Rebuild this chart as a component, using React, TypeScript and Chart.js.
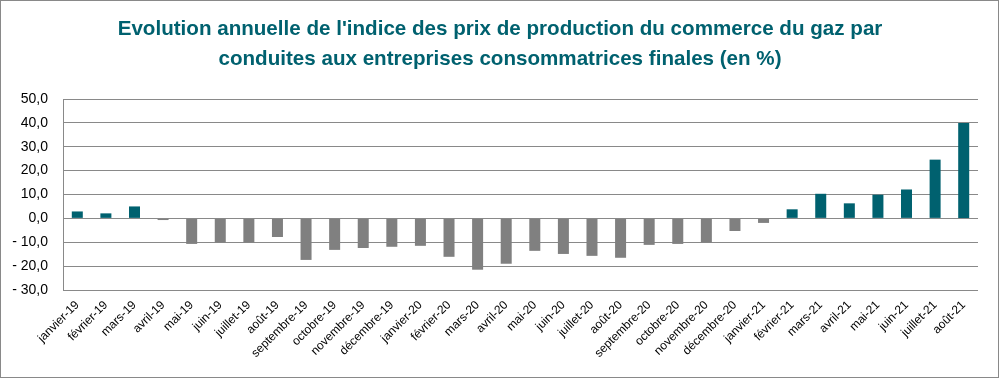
import React, { useEffect, useRef } from "react";
import { Chart, registerables } from "chart.js";

Chart.register(...registerables);

const titleLines: string[] = [
  "Evolution annuelle de l'indice des prix de production du commerce du gaz par",
  "conduites aux entreprises consommatrices finales (en %)",
];

const categories: string[] = [
  "janvier-19", "février-19", "mars-19", "avril-19", "mai-19", "juin-19", "juillet-19", "août-19",
  "septembre-19", "octobre-19", "novembre-19", "décembre-19",
  "janvier-20", "février-20", "mars-20", "avril-20", "mai-20", "juin-20", "juillet-20", "août-20",
  "septembre-20", "octobre-20", "novembre-20", "décembre-20",
  "janvier-21", "février-21", "mars-21", "avril-21", "mai-21", "juin-21", "juillet-21", "août-21",
];

const values: number[] = [
  2.9, 2.1, 5.0, -0.7, -10.7, -10.1, -10.1, -7.8,
  -17.4, -13.2, -12.4, -11.9,
  -11.5, -16.1, -21.5, -19.0, -13.6, -14.9, -15.7, -16.5,
  -11.1, -10.7, -10.1, -5.3,
  -1.9, 3.8, 10.3, 6.3, 9.9, 12.1, 24.6, 40.0,
];

const yMin = -30;
const yMax = 50;
const yStep = 10;

const TEAL = "#00616F";
const GRAY = "#808080";
const LINE = "#898989";

function formatTick(v: number): string {
  const s = Math.abs(v).toFixed(1).replace(".", ",");
  return v < 0 ? "- " + s : s;
}

export default function App() {
  const ref = useRef<HTMLCanvasElement | null>(null);

  useEffect(() => {
    document.body.style.margin = "0";
    const canvas = ref.current;
    if (!canvas) return;

    const framePlugin = {
      id: "frameAndTitle",
      afterDraw(chart: any) {
        const ctx = chart.ctx;
        ctx.save();
        ctx.strokeStyle = LINE;
        ctx.lineWidth = 1;
        ctx.strokeRect(0.5, 0.5, 998, 377);
        ctx.fillStyle = TEAL;
        ctx.font = "bold 20.6px 'Liberation Sans', Arial, sans-serif";
        ctx.textAlign = "center";
        ctx.textBaseline = "middle";
        ctx.fillText(titleLines[0], 500, 29);
        ctx.fillText(titleLines[1], 500, 59);
        ctx.restore();
      },
    };

    const chart = new Chart(canvas, {
      type: "bar",
      data: {
        labels: categories,
        datasets: [
          {
            data: values,
            backgroundColor: values.map((v) => (v >= 0 ? TEAL : GRAY)),
            barPercentage: 0.77,
            categoryPercentage: 0.5,
          },
        ],
      },
      options: {
        responsive: false,
        animation: false,
        layout: { padding: { top: 99, right: 22, left: 0, bottom: 0 } },
        plugins: {
          legend: { display: false },
          title: { display: false },
          tooltip: { enabled: false },
        },
        scales: {
          x: {
            grid: { display: false, drawTicks: false },
            border: { display: false },
            ticks: {
              autoSkip: false,
              maxRotation: 45,
              minRotation: 45,
              padding: 8,
              color: "#000000",
              font: { family: "'Liberation Sans', Arial, sans-serif", size: 12 },
            },
            afterFit(scale: any) {
              scale.height = 88;
            },
          },
          y: {
            min: yMin,
            max: yMax,
            grid: { color: LINE, drawTicks: false, lineWidth: 1 },
            border: { display: true, color: LINE, width: 1 },
            ticks: {
              stepSize: yStep,
              padding: 15,
              color: "#000000",
              font: { family: "'Liberation Sans', Arial, sans-serif", size: 14 },
              callback: (v: any) => formatTick(Number(v)),
            },
            afterFit(scale: any) {
              scale.width = 63;
            },
          },
        },
      },
      plugins: [framePlugin],
    });

    return () => {
      chart.destroy();
    };
  }, []);

  return (
    <div style={{ position: "fixed", left: 0, top: 0, width: 1000, height: 378, background: "#fff" }}>
      <canvas ref={ref} width={1000} height={378} />
    </div>
  );
}
